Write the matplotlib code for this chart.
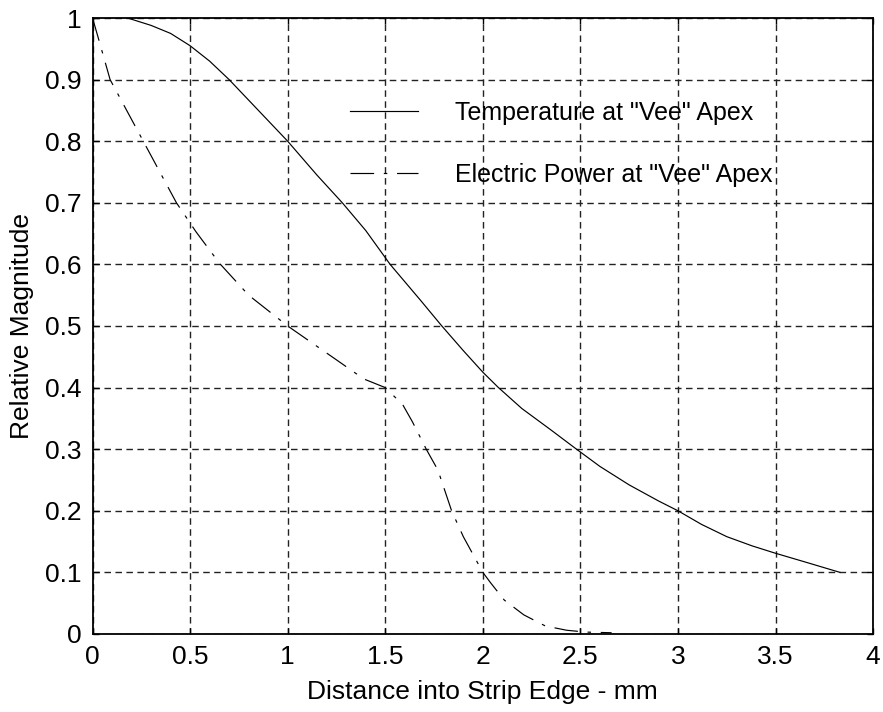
import numpy as np
import matplotlib
matplotlib.use('Agg')
import matplotlib.pyplot as plt

# curve values
temp_x = [0.18, 0.3, 0.4, 0.5, 0.6, 0.7, 0.85, 1.0, 1.15, 1.28, 1.4, 1.525, 1.68,
          1.79, 1.9, 2.0, 2.08, 2.2, 2.35, 2.48, 2.6, 2.75, 2.9, 3.0, 3.12,
          3.25, 3.38, 3.5, 3.65, 3.83]
temp_y = [1.0, 0.988, 0.975, 0.955, 0.93, 0.9, 0.85, 0.8, 0.745, 0.7, 0.655,
          0.6, 0.542, 0.5, 0.46, 0.425, 0.4, 0.366, 0.331, 0.3, 0.272, 0.242,
          0.216, 0.2, 0.178, 0.158, 0.143, 0.131, 0.117, 0.1]

power_x = [0.0, 0.03, 0.09, 0.26, 0.43, 0.53, 0.65, 0.8, 1.0, 1.25, 1.39, 1.5,
           1.59, 1.64, 1.71, 1.77, 1.84, 1.9, 2.0, 2.04, 2.11, 2.21, 2.32,
           2.43, 2.53, 2.66]
power_y = [1.0, 0.967, 0.9, 0.8, 0.7, 0.653, 0.602, 0.55, 0.5, 0.445, 0.414, 0.4,
           0.372, 0.344, 0.3, 0.266, 0.2, 0.158, 0.1, 0.083, 0.055, 0.031, 0.013,
           0.006, 0.003, 0.002]

labels = ['Temperature at "Vee" Apex', 'Electric Power at "Vee" Apex']
xticks = [0, 0.5, 1, 1.5, 2, 2.5, 3, 3.5, 4]
yticks = [0, 0.1, 0.2, 0.3, 0.4, 0.5, 0.6, 0.7, 0.8, 0.9, 1]

plt.rcParams['font.family'] = ['Liberation Sans', 'DejaVu Sans']
plt.rcParams['lines.scale_dashes'] = False

fig = plt.figure(figsize=(8.83, 7.12), dpi=100)
ax = fig.add_axes([0.1048, 0.1096, 0.884, 0.8651])

ax.plot(temp_x, temp_y, color='black', lw=0.85, label=labels[0])
ax.plot(power_x, power_y, color='black', lw=0.85,
        linestyle=(0, (17, 7, 2.5, 7)), label=labels[1])

ax.set_xlim(0, 4)
ax.set_ylim(0, 1)
ax.set_xticks(xticks)
ax.set_xticklabels(['0', '0.5', '1', '1.5', '2', '2.5', '3', '3.5', '4'])
ax.set_yticks(yticks)
ax.set_yticklabels(['0', '0.1', '0.2', '0.3', '0.4', '0.5', '0.6', '0.7', '0.8', '0.9', '1'])

ax.grid(True, color='#222222', lw=1.0, linestyle=(0, (4.7, 3.2)))
ax.set_axisbelow(True)
ax.tick_params(direction='in', length=4, width=1, top=True, right=True,
               labelsize=19, pad=8)
for s in ax.spines.values():
    s.set_linewidth(1.3)

ax.set_xlabel('Distance into Strip Edge - mm', fontsize=19, labelpad=8)
ax.set_ylabel('Relative Magnitude', fontsize=19, labelpad=8)

ax.legend(loc='upper left', bbox_to_anchor=(0.33, 0.865), frameon=False,
          fontsize=18, handlelength=2.7, handletextpad=1.5, labelspacing=1.5,
          borderpad=0, borderaxespad=0)

fig.savefig('out.png', dpi=100)
